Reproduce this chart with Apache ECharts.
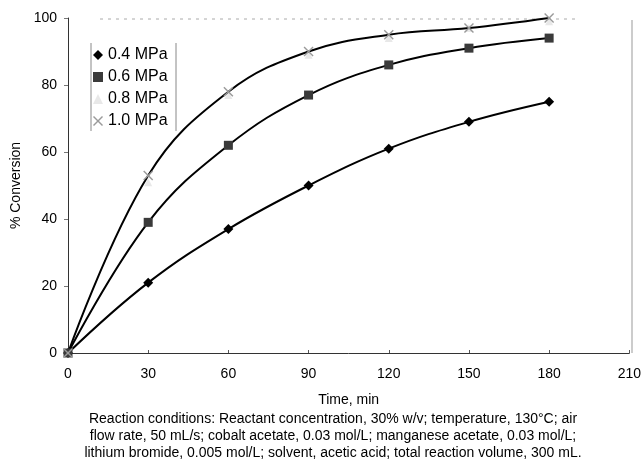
<!DOCTYPE html>
<html>
<head>
<meta charset="utf-8">
<script src="https://cdn.jsdelivr.net/npm/echarts@6/dist/echarts.min.js"></script>
<style>
  html, body { margin: 0; padding: 0; background: #fff; }
  #chart { width: 644px; height: 460px; }
</style>
</head>
<body>
<div id="chart"></div>
<script>
// time points (min)
var times = [0, 30, 60, 90, 120, 150, 180];
// % conversion for each pressure
var p04 = [0, 21, 37, 50, 61, 69, 75];
var p06 = [0, 39, 62, 77, 86, 91, 94];
var p08 = [0, 51, 77, 89, 94, 97, 99];
var p10 = [0, 53, 78, 90, 95, 97, 100];

var xTicks = [0, 30, 60, 90, 120, 150, 180, 210];
var captionLines = [
  'Reaction conditions: Reactant concentration, 30% w/v; temperature, 130\u00B0C; air',
  'flow rate, 50 mL/s; cobalt acetate, 0.03 mol/L; manganese acetate, 0.03 mol/L;',
  'lithium bromide, 0.005 mol/L; solvent, acetic acid; total reaction volume, 300 mL.'
];

var FONT = 'Liberation Sans, Arial, sans-serif';
var crossIcon = 'path://M0,1L1,0L5,4L9,0L10,1L6,5L10,9L9,10L5,6L1,10L0,9L4,5Z';

function pairs(ys) {
  var out = [];
  for (var i = 0; i < times.length; i++) {
    out.push([times[i], ys[i]]);
  }
  return out;
}

function lineSeries(name, ys, symbol, color, size) {
  return {
    name: name,
    type: 'line',
    data: pairs(ys),
    smooth: 0.4,
    symbol: symbol,
    symbolSize: size,
    showAllSymbol: true,
    itemStyle: { color: color },
    lineStyle: { color: '#000', width: 2 },
    z: 3
  };
}

var captionGraphics = [];
for (var k = 0; k < captionLines.length; k++) {
  captionGraphics.push({
    type: 'text',
    x: 333,
    y: 419 + k * 17,
    style: {
      text: captionLines[k],
      fontFamily: FONT,
      fontSize: 14,
      fill: '#000',
      align: 'center',
      verticalAlign: 'middle'
    }
  });
}

var chart = echarts.init(document.getElementById('chart'));

var option = {
  backgroundColor: '#fff',
  animation: false,
  grid: { left: 68, right: 12, top: 18, bottom: 107, containLabel: false },
  legend: {
    orient: 'vertical',
    left: 88,
    top: 42,
    itemWidth: 10,
    itemHeight: 10,
    itemGap: 6,
    textStyle: { fontFamily: FONT, fontSize: 16, color: '#000' },
    data: [
      { name: '0.4 MPa', icon: 'diamond' },
      { name: '0.6 MPa', icon: 'rect' },
      { name: '0.8 MPa', icon: 'triangle' },
      { name: '1.0 MPa', icon: crossIcon }
    ]
  },
  xAxis: {
    type: 'value',
    min: 0,
    max: 210,
    interval: 30,
    name: 'Time, min',
    nameLocation: 'middle',
    nameGap: 40,
    nameMoveOverlap: false,
    nameTextStyle: { fontFamily: FONT, fontSize: 14, color: '#000' },
    axisLine: { show: true, lineStyle: { color: '#333', width: 1 } },
    axisTick: { show: true, inside: true, length: 3, lineStyle: { color: '#555' } },
    axisLabel: {
      fontFamily: FONT, fontSize: 14, color: '#000', margin: 14,
      formatter: function (v) { return xTicks.indexOf(v) >= 0 ? String(v) : ''; }
    },
    splitLine: { show: false }
  },
  yAxis: {
    type: 'value',
    min: 0,
    max: 100,
    interval: 20,
    name: '% Conversion',
    nameLocation: 'middle',
    nameGap: 44,
    nameRotate: 90,
    nameTextStyle: { fontFamily: FONT, fontSize: 14, color: '#000' },
    axisLine: { show: true, lineStyle: { color: '#333', width: 1 } },
    axisTick: { show: true, length: 4, lineStyle: { color: '#777' } },
    axisLabel: { fontFamily: FONT, fontSize: 14, color: '#000', margin: 11 },
    splitLine: { show: false }
  },
  graphic: [
    // faint frame bits: dotted top and thin right border
    { type: 'line', shape: { x1: 100, y1: 19, x2: 575, y2: 19 },
      style: { stroke: '#aaa', lineWidth: 1, lineDash: [3, 5] } },
    { type: 'line', shape: { x1: 632, y1: 20, x2: 632, y2: 353 },
      style: { stroke: '#999', lineWidth: 1 } },
    // legend side rules
    { type: 'line', shape: { x1: 91, y1: 43, x2: 91, y2: 131 },
      style: { stroke: '#888', lineWidth: 1 } },
    { type: 'line', shape: { x1: 176, y1: 43, x2: 176, y2: 131 },
      style: { stroke: '#888', lineWidth: 1 } }
  ].concat(captionGraphics),
  series: [
    lineSeries('0.4 MPa', p04, 'diamond', '#000', 10),
    lineSeries('0.6 MPa', p06, 'rect', '#3a3a3a', 9),
    {
      name: '0.8 MPa',
      type: 'scatter',
      data: pairs(p08),
      symbol: 'triangle',
      symbolSize: 8,
      itemStyle: { color: '#e2e2e2' },
      z: 2
    },
    lineSeries('1.0 MPa', p10, crossIcon, '#9a9a9a', 10)
  ]
};

chart.setOption(option);
</script>
</body>
</html>
